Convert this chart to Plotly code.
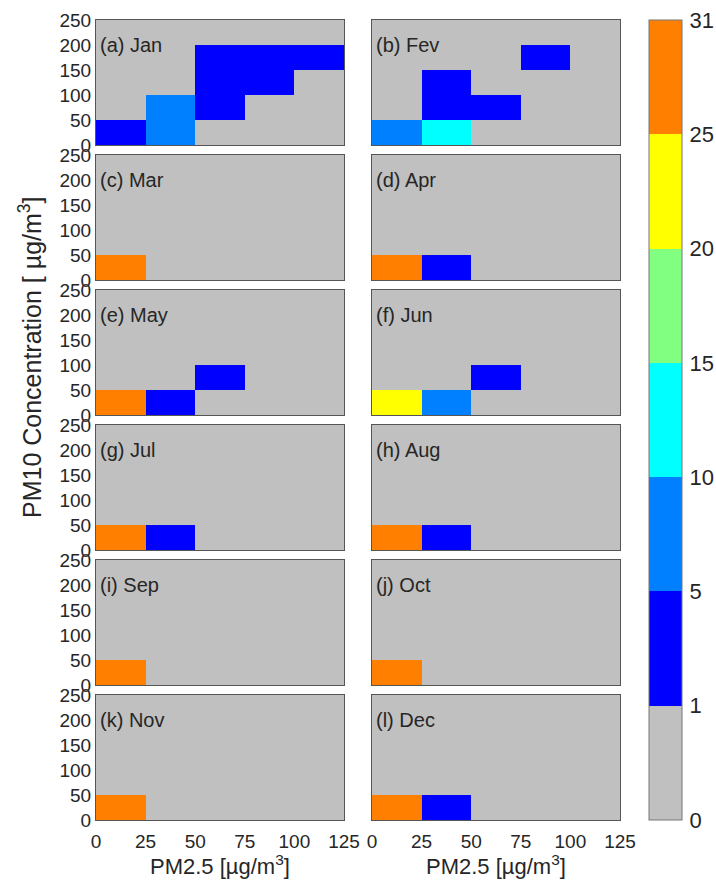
import numpy as np
import plotly.graph_objects as go

# ---------------- data ----------------
months = ["(a) Jan", "(b) Fev", "(c) Mar", "(d) Apr", "(e) May", "(f) Jun",
          "(g) Jul", "(h) Aug", "(i) Sep", "(j) Oct", "(k) Nov", "(l) Dec"]
pm25_centers = [12.5, 37.5, 62.5, 87.5, 112.5]      # PM2.5 bins (0-25, ..., 100-125)
pm10_centers = [25, 75, 125, 175, 225]              # PM10 bins (0-50, ..., 200-250)
x_ticks = [0, 25, 50, 75, 100, 125]
y_ticks = [0, 50, 100, 150, 200, 250]
level_edges = [1, 5, 10, 15, 20, 25]                # colour-class boundaries
level_labels = ["0", "1", "5", "10", "15", "20", "25", "31"]
level_colors = ["#c0c0c0", "#0000ff", "#0080ff", "#00ffff", "#80ff80", "#ffff00", "#ff8000"]

# counts per month: rows = PM10 bins (low -> high), cols = PM2.5 bins
jan = [[3, 7, 0, 0, 0], [0, 6, 2, 0, 0], [0, 0, 3, 2, 0], [0, 0, 2, 3, 3], [0, 0, 0, 0, 0]]
feb = [[8, 12, 0, 0, 0], [0, 2, 2, 0, 0], [0, 3, 0, 0, 0], [0, 0, 0, 1, 0], [0, 0, 0, 0, 0]]
mar = [[31, 0, 0, 0, 0], [0, 0, 0, 0, 0], [0, 0, 0, 0, 0], [0, 0, 0, 0, 0], [0, 0, 0, 0, 0]]
apr = [[27, 3, 0, 0, 0], [0, 0, 0, 0, 0], [0, 0, 0, 0, 0], [0, 0, 0, 0, 0], [0, 0, 0, 0, 0]]
may = [[27, 3, 0, 0, 0], [0, 0, 1, 0, 0], [0, 0, 0, 0, 0], [0, 0, 0, 0, 0], [0, 0, 0, 0, 0]]
jun = [[22, 6, 0, 0, 0], [0, 0, 2, 0, 0], [0, 0, 0, 0, 0], [0, 0, 0, 0, 0], [0, 0, 0, 0, 0]]
jul = [[29, 2, 0, 0, 0], [0, 0, 0, 0, 0], [0, 0, 0, 0, 0], [0, 0, 0, 0, 0], [0, 0, 0, 0, 0]]
aug = [[28, 3, 0, 0, 0], [0, 0, 0, 0, 0], [0, 0, 0, 0, 0], [0, 0, 0, 0, 0], [0, 0, 0, 0, 0]]
sep = [[30, 0, 0, 0, 0], [0, 0, 0, 0, 0], [0, 0, 0, 0, 0], [0, 0, 0, 0, 0], [0, 0, 0, 0, 0]]
oct_ = [[31, 0, 0, 0, 0], [0, 0, 0, 0, 0], [0, 0, 0, 0, 0], [0, 0, 0, 0, 0], [0, 0, 0, 0, 0]]
nov = [[30, 0, 0, 0, 0], [0, 0, 0, 0, 0], [0, 0, 0, 0, 0], [0, 0, 0, 0, 0], [0, 0, 0, 0, 0]]
dec = [[27, 4, 0, 0, 0], [0, 0, 0, 0, 0], [0, 0, 0, 0, 0], [0, 0, 0, 0, 0], [0, 0, 0, 0, 0]]
counts = [jan, feb, mar, apr, may, jun, jul, aug, sep, oct_, nov, dec]

# ---------------- layout geometry (pixels) ----------------
W, H = 716, 884
col_x = [(96, 344), (372, 620)]
row_tops = [20, 155, 290, 425, 560, 695]
panel_h = 125

FONT = "Liberation Sans, Arial, sans-serif"
TXT = "#262626"
nlev = len(level_colors)
colorscale = []
for i, c in enumerate(level_colors):
    colorscale.append([i / nlev, c])
    colorscale.append([(i + 1) / nlev, c])

fig = go.Figure()
annotations = []
for k, (name, z) in enumerate(zip(months, counts)):
    r, c = divmod(k, 2)
    idx = k + 1
    xa = "x" if idx == 1 else f"x{idx}"
    ya = "y" if idx == 1 else f"y{idx}"
    zc = np.digitize(np.array(z, dtype=float), level_edges) + 0.5
    fig.add_trace(go.Heatmap(
        x=pm25_centers, y=pm10_centers, z=zc, coloraxis="coloraxis",
        xaxis=xa, yaxis=ya, hoverinfo="skip"))
    x0, x1 = col_x[c]
    top = row_tops[r]
    bot = top + panel_h
    xkey = "xaxis" if idx == 1 else f"xaxis{idx}"
    ykey = "yaxis" if idx == 1 else f"yaxis{idx}"
    fig.update_layout(**{
        xkey: dict(domain=[x0 / W, x1 / W], anchor=ya, range=[0, 125],
                   tickvals=x_ticks, showticklabels=(r == 5),
                   ticks="outside", ticklen=4, tickcolor="rgba(0,0,0,0)",
                   showgrid=False, zeroline=False, showline=True, mirror=True,
                   linecolor="#555555", linewidth=1, automargin=False,
                   tickfont=dict(family=FONT, size=19, color=TXT)),
        ykey: dict(domain=[1 - bot / H, 1 - top / H], anchor=xa, range=[0, 250],
                   tickvals=y_ticks, showticklabels=(c == 0), ticks="",
                   showgrid=False, zeroline=False, showline=True, mirror=True,
                   linecolor="#555555", linewidth=1, automargin=False,
                   tickfont=dict(family=FONT, size=19, color=TXT)),
    })
    annotations.append(dict(x=1, y=200, xref=xa, yref=ya, text=name,
                            showarrow=False, xanchor="left", yanchor="middle",
                            font=dict(family=FONT, size=20, color=TXT)))

for (x0, x1) in col_x:
    annotations.append(dict(x=(x0 + x1) / 2 / W, y=1 - 865 / H, xref="paper", yref="paper",
                            text="PM2.5 [µg/m<sup>3</sup>]", showarrow=False,
                            xanchor="center", yanchor="middle",
                            font=dict(family=FONT, size=22, color=TXT)))
annotations.append(dict(x=30 / W, y=1 - 357 / H, xref="paper", yref="paper",
                        text="PM10 Concentration [ µg/m<sup>3</sup>]", textangle=-90,
                        showarrow=False, xanchor="center", yanchor="middle",
                        font=dict(family=FONT, size=25, color=TXT)))

fig.update_layout(
    width=W, height=H, margin=dict(l=0, r=0, t=0, b=0, autoexpand=False),
    paper_bgcolor="white", plot_bgcolor="#c0c0c0",
    showlegend=False, annotations=annotations,
    coloraxis=dict(
        cmin=0, cmax=nlev, colorscale=colorscale,
        colorbar=dict(
            x=649 / W, xanchor="left", xref="paper",
            y=1 - 420 / H, yanchor="middle", len=800 / H, lenmode="fraction",
            thickness=33, thicknessmode="pixels",
            tickvals=list(range(nlev + 1)), ticktext=level_labels,
            ticks="outside", ticklen=3, tickcolor="rgba(0,0,0,0)",
            tickfont=dict(family=FONT, size=22, color=TXT),
            outlinewidth=1, outlinecolor="#777777", xpad=0, ypad=0,
        ),
    ),
)

fig.write_html("out.html")
